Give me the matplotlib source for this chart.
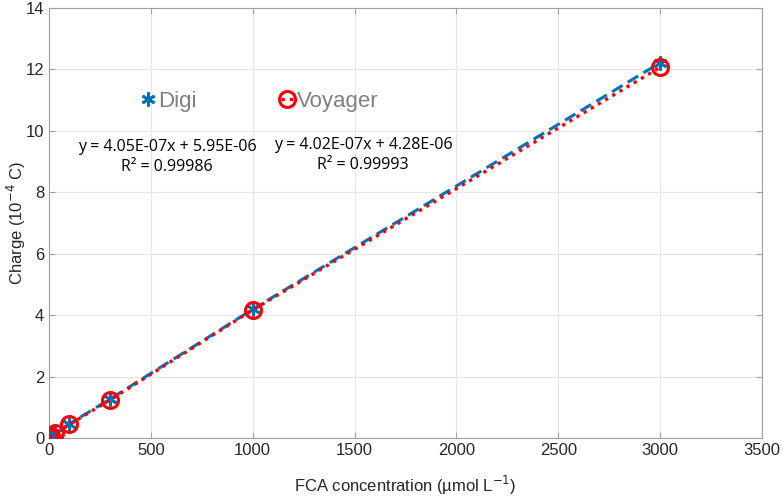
import matplotlib
matplotlib.use("Agg")
import matplotlib.pyplot as plt
from matplotlib.lines import Line2D

conc = [1, 10, 30, 100, 300, 1000, 3000]
digi = [0.05, 0.08, 0.16, 0.46, 1.27, 4.19, 12.22]
voyager = [0.04, 0.07, 0.15, 0.44, 1.24, 4.17, 12.07]
eq_digi = "y = 4.05E-07x + 5.95E-06\nR² = 0.99986"
eq_voy = "y = 4.02E-07x + 4.28E-06\nR² = 0.99993"

plt.rcParams['font.family'] = ['Liberation Sans', 'DejaVu Sans']

fig = plt.figure(figsize=(7.83, 4.96), dpi=100)
ax = fig.add_axes([49/783, 1-438/496, (762-49)/783, (438-8)/496])

blue = '#0072BD'
red = '#FF0000'
ax.plot(conc, digi, linestyle=(0, (4, 2)), color=blue, lw=2.2, zorder=3)
ax.plot(conc, digi, linestyle='none', color=blue, marker=(6, 2, 0),
        markersize=10, markeredgewidth=2, zorder=4)
ax.plot(conc, voyager, linestyle=(0, (1, 1.5)), color=red, lw=2.4, zorder=5)
ax.plot(conc, voyager, linestyle='none', marker='o', markersize=11.5,
        markerfacecolor='none', markeredgecolor=red, markeredgewidth=2.2, zorder=6)

ax.set_xlim(0, 3500)
ax.set_ylim(0, 14)
ax.set_xticks(range(0, 3501, 500))
ax.set_yticks(range(0, 15, 2))
ax.grid(True, color='#e6e6e6', lw=0.8)
ax.set_axisbelow(True)
for s in ax.spines.values():
    s.set_color('#a0a0a0')
ax.tick_params(colors='#262626', labelsize=12, direction='in', length=4, top=True, right=True)
ax.tick_params(axis='both', color='#a0a0a0')
ax.set_xlabel('FCA concentration (µmol L$^{-1}$)', fontsize=12, color='#262626')
ax.set_ylabel('Charge (10$^{-4}$ C)', fontsize=12, color='#262626')
ax.yaxis.set_label_coords(-0.030, 0.5)
ax.xaxis.set_label_coords(0.5, -0.083)

h1 = Line2D([], [], color=blue, linestyle='none', marker=(6, 2, 0),
            markersize=10, markeredgewidth=2)
h2 = Line2D([], [], color=red, linestyle=(0, (1, 1.5)), lw=2.4, marker='o',
            markersize=11.5, markerfacecolor='none', markeredgewidth=2.2)
leg = ax.legend([h1, h2], ['Digi', 'Voyager'], ncol=2, frameon=False,
                loc='center left', bbox_to_anchor=(0.101, 0.782),
                handlelength=0.6, handletextpad=0.15, columnspacing=3.8,
                fontsize=16)
for t in leg.get_texts():
    t.set_color('#808080')

fig.text(167/783, 1-157/496, eq_digi, ha='center', va='center', fontsize=11.5,
         family=['Open Sans', 'DejaVu Sans'], linespacing=1.4)
fig.text(363/783, 1-155/496, eq_voy, ha='center', va='center', fontsize=11.5,
         family=['Open Sans', 'DejaVu Sans'], linespacing=1.4)

fig.savefig('out.png', dpi=100)
